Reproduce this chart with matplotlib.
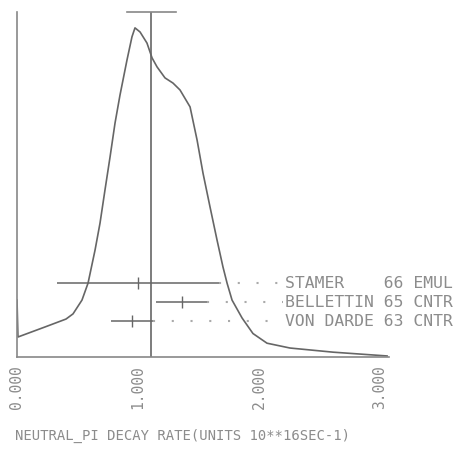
import matplotlib.pyplot as plt

# ideogram curve (rate, relative height)
curve_x = [0.0, 0.008, 0.231, 0.405, 0.463, 0.537, 0.587, 0.645, 0.686, 0.727,
           0.769, 0.810, 0.851, 0.909, 0.950, 0.975, 1.017, 1.074, 1.116, 1.157,
           1.223, 1.289, 1.347, 1.430, 1.488, 1.537, 1.595, 1.653, 1.702, 1.736,
           1.777, 1.860, 1.950, 2.066, 2.256, 2.612, 3.058]
curve_y = [0.165, 0.058, 0.087, 0.110, 0.125, 0.165, 0.214, 0.310, 0.388, 0.484,
           0.580, 0.678, 0.759, 0.861, 0.928, 0.954, 0.942, 0.910, 0.867, 0.841,
           0.809, 0.794, 0.774, 0.725, 0.629, 0.533, 0.435, 0.339, 0.261, 0.214,
           0.165, 0.113, 0.068, 0.040, 0.026, 0.014, 0.003]

# weighted average and its error
mean_val = 1.11
mean_err = 0.20

# measurements
labels = ['STAMER    66 EMUL', 'BELLETTIN 65 CNTR', 'VON DARDE 63 CNTR']
values = [1.00, 1.36, 0.95]
errors = [0.67, 0.21, 0.17]
rows = [0.214, 0.159, 0.104]

ticks = [0, 1, 2, 3]
tick_labels = ['0.000', '1.000', '2.000', '3.000']
xlabel = 'NEUTRAL_PI DECAY RATE(UNITS 10**16SEC-1)'

line_c = '#666666'
text_c = '#8c8c8c'
mono = 'DejaVu Sans Mono'

fig = plt.figure(figsize=(4.61, 4.5), dpi=100)
ax = fig.add_axes([17 / 461, 93 / 450, 441.7 / 461, 345 / 450])
ax.set_xlim(0, 3.65)
ax.set_ylim(0, 1.0)

ax.plot(curve_x, curve_y, color=line_c, lw=1.2, solid_joinstyle='round')

# average line with error bar on top
ax.axvline(mean_val, ymin=0, ymax=1, color=line_c, lw=1.2)
ax.plot([mean_val - mean_err, mean_val + mean_err], [1.0, 1.0], color='#888888', lw=1.2, clip_on=False)

text_x = 2.215
for lab, v, e, r in zip(labels, values, errors, rows):
    ax.errorbar(v, r, xerr=e, fmt='|', color=line_c, ms=8, elinewidth=1.1, capsize=0)
    ax.plot([v + e, text_x - 0.02], [r, r], color='#aaaaaa', lw=1.5,
            linestyle=(0, (1, 8)))
    ax.text(text_x, r, lab, fontfamily=mono, fontsize=11.8, color=text_c, va='center', ha='left')

for side in ['top', 'right']:
    ax.spines[side].set_visible(False)
ax.spines['left'].set_color('#888888')
ax.spines['bottom'].set_color('#888888')
ax.spines['left'].set_linewidth(1.2)
ax.spines['bottom'].set_linewidth(1.2)
ax.spines['bottom'].set_bounds(0, 3.07)

ax.set_yticks([])
ax.set_xticks(ticks)
ax.set_xticklabels(tick_labels, rotation=90, fontfamily=mono, fontsize=10.5, color=text_c)
ax.tick_params(axis='x', length=0, pad=6)

fig.text(15 / 461, 1 - 436 / 450, xlabel, fontfamily=mono, fontsize=10, color=text_c,
         va='center', ha='left')

fig.savefig('out.png', dpi=100)
